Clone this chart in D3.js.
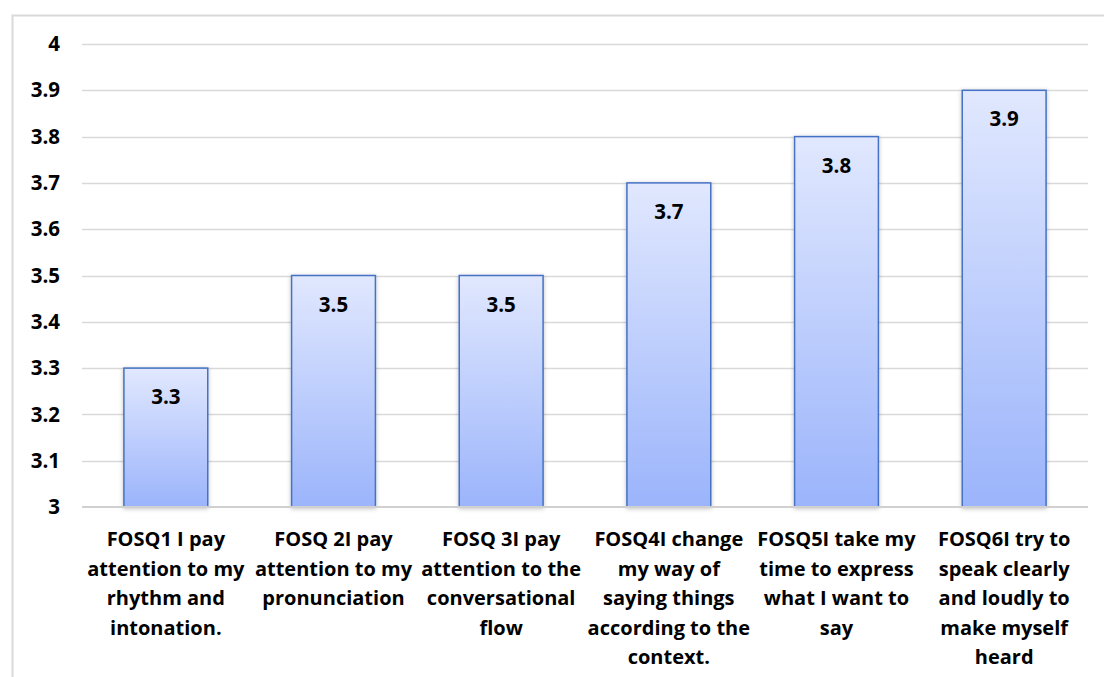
<!DOCTYPE html>
<html>
<head>
<meta charset="utf-8">
<script src="https://cdn.jsdelivr.net/npm/d3@7"></script>
<style>
  html, body { margin: 0; padding: 0; background: #fff; }
  svg text { font-family: "Open Sans", Lato, sans-serif; font-weight: bold; fill: #000; }
</style>
</head>
<body>
<svg id="chart" width="1104" height="677"></svg>
<script>
const categories = [
  ['FOSQ1 I pay', 'attention to my', 'rhythm and', 'intonation.'],
  ['FOSQ 2I pay', 'attention to my', 'pronunciation'],
  ['FOSQ 3I pay', 'attention to the', 'conversational', 'flow'],
  ['FOSQ4I change', 'my way of', 'saying things', 'according to the', 'context.'],
  ['FOSQ5I take my', 'time to express', 'what I want to', 'say'],
  ['FOSQ6I try to', 'speak clearly', 'and loudly to', 'make myself', 'heard']
]
const values = [3.3, 3.5, 3.5, 3.7, 3.8, 3.9]
const yTicks = [3, 3.1, 3.2, 3.3, 3.4, 3.5, 3.6, 3.7, 3.8, 3.9, 4]

const svg = d3.select('#chart')
const margin = { left: 82, right: 16, top: 44, bottom: 170 }
const W = 1104, H = 677

// chart frame
svg.append('path')
  .attr('d', `M12.5,${H} V15.5 H${W}`)
  .attr('fill', 'none')
  .attr('stroke', '#d9d9d9')
  .attr('stroke-width', 2)

let x = d3.scaleBand()
  .domain(d3.range(categories.length))
  .range([margin.left, W - margin.right])
  .paddingInner(0.5)
  .paddingOuter(0.25)

let y = d3.scaleLinear()
  .domain([3, 4])
  .range([H - margin.bottom, margin.top])

let defs = svg.append('defs')
let grad = defs.append('linearGradient')
  .attr('id', 'barfill')
  .attr('x1', 0).attr('y1', 0).attr('x2', 0).attr('y2', 1)
grad.append('stop').attr('offset', '0%').attr('stop-color', '#e1e8fe')
grad.append('stop').attr('offset', '100%').attr('stop-color', '#9bb4fb')

let shadow = defs.append('filter').attr('id', 'shadow')
  .attr('x', '-20%').attr('y', '-5%').attr('width', '140%').attr('height', '115%')
shadow.append('feDropShadow')
  .attr('dx', 0).attr('dy', 1).attr('stdDeviation', 2)
  .attr('flood-color', '#000').attr('flood-opacity', 0.25)

// gridlines
svg.append('g')
  .selectAll('line')
  .data(yTicks.slice(1))
  .enter().append('line')
    .attr('x1', margin.left)
    .attr('x2', W - margin.right)
    .attr('y1', d => Math.round(y(d)) + 0.5)
    .attr('y2', d => Math.round(y(d)) + 0.5)
    .attr('stroke', '#d9d9d9')
    .attr('stroke-width', 1.5)

// y axis labels
svg.append('g')
  .selectAll('text')
  .data(yTicks)
  .enter().append('text')
    .attr('x', 60)
    .attr('y', d => y(d))
    .attr('dy', '0.35em')
    .attr('text-anchor', 'end')
    .style('font-size', '20.5px')
    .text(d => d3.format('~g')(d))

// bars
svg.append('g')
  .selectAll('rect')
  .data(values)
  .enter().append('rect')
    .attr('x', (d,i) => x(i))
    .attr('y', d => y(d))
    .attr('width', x.bandwidth())
    .attr('height', d => y(3) - y(d))
    .attr('fill', 'url(#barfill)')
    .attr('stroke', '#4472c4')
    .attr('stroke-width', 1.5)
    .attr('filter', 'url(#shadow)')

// baseline
svg.append('line')
  .attr('x1', margin.left)
  .attr('x2', W - margin.right)
  .attr('y1', y(3))
  .attr('y2', y(3))
  .attr('stroke', '#d0d0d0')
  .attr('stroke-width', 2)

// value labels
svg.append('g')
  .selectAll('text')
  .data(values)
  .enter().append('text')
    .attr('x', (d,i) => x(i) + x.bandwidth() / 2)
    .attr('y', d => y(d) + 29)
    .attr('dy', '0.35em')
    .attr('text-anchor', 'middle')
    .style('font-size', '20.5px')
    .text(d => d3.format('.1f')(d))

// category labels
let cat = svg.append('g')
  .selectAll('text')
  .data(categories)
  .enter().append('text')
    .attr('text-anchor', 'middle')
    .style('font-size', '20px')

cat.selectAll('tspan')
  .data((d,i) => d.map(line => ({ line, i })))
  .enter().append('tspan')
    .attr('x', d => x(d.i) + x.bandwidth() / 2)
    .attr('y', (d,j) => 539 + j * 29.6)
    .attr('dy', '0.35em')
    .text(d => d.line)
</script>
</body>
</html>
